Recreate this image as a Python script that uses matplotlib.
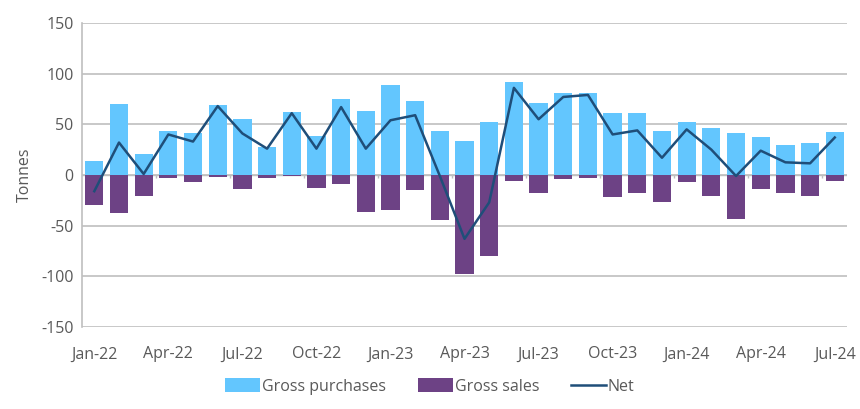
import numpy as np
import matplotlib.pyplot as plt

plt.rcParams['font.family'] = ['Open Sans', 'DejaVu Sans']
plt.rcParams['axes.unicode_minus'] = False

months = ['Jan-22', 'Feb-22', 'Mar-22', 'Apr-22', 'May-22', 'Jun-22', 'Jul-22', 'Aug-22',
          'Sep-22', 'Oct-22', 'Nov-22', 'Dec-22', 'Jan-23', 'Feb-23', 'Mar-23', 'Apr-23',
          'May-23', 'Jun-23', 'Jul-23', 'Aug-23', 'Sep-23', 'Oct-23', 'Nov-23', 'Dec-23',
          'Jan-24', 'Feb-24', 'Mar-24', 'Apr-24', 'May-24', 'Jun-24', 'Jul-24']
gross_purchases = [14, 70, 21, 43, 41, 69, 55, 28, 62, 38, 75, 63, 89, 73, 43, 34,
                   52, 92, 71, 81, 81, 61, 61, 43, 52, 46, 41, 37, 30, 32, 42]
gross_sales = [-30, -38, -21, -3, -7, -1.5, -14, -3, -1, -12.5, -9, -37, -35, -14.5, -44, -98,
               -80, -5.5, -17.5, -4, -3, -22, -17.5, -27, -7, -21, -43, -14, -17.5, -21, -5.5]
net = [-16, 32, 1, 40, 33, 68, 41, 26, 61, 26, 67, 26, 54, 59, -1, -63,
       -27, 86, 55, 77, 79, 40, 44, 17, 45, 25, -1, 24, 12.5, 11.5, 37]

c_buy = '#63C6FE'
c_sell = '#6D4285'
c_net = '#1F4E79'
c_text = '#595959'
c_grid = '#BFBFBF'

x = np.arange(len(months))

fig = plt.figure(figsize=(8.6, 4.09), dpi=100)
ax = fig.add_axes([0.0953, 0.2005, 0.8897, 0.7433])

b1 = ax.bar(x, gross_purchases, width=0.74, color=c_buy, label='Gross purchases', zorder=2)
b2 = ax.bar(x, gross_sales, width=0.74, color=c_sell, label='Gross sales', zorder=2)
l1, = ax.plot(x, net, color=c_net, lw=1.8, label='Net', zorder=3)

ax.set_ylim(-150, 150)
ax.set_yticks(np.arange(-150, 151, 50))
ax.set_xlim(-0.5, len(months) - 0.5)
ax.yaxis.grid(True, color=c_grid, lw=1.2, zorder=0)
ax.axhline(0, color=c_grid, lw=1.0, zorder=1)

# quarter tick marks on zero line
quarters = x[::3]
ax.vlines(quarters[1:] - 0.5, -3, 0, color=c_grid, lw=1.0, zorder=1)

ax.set_xticks(quarters)
ax.set_xticklabels([months[i] for i in quarters])
ax.tick_params(axis='both', length=0, labelsize=11.5, colors=c_text, pad=6)
ax.tick_params(axis='x', pad=14)

for s in ['top', 'right', 'bottom']:
    ax.spines[s].set_visible(False)
ax.spines['left'].set_color(c_grid)
ax.spines['left'].set_linewidth(1.2)

ax.set_ylabel('Tonnes', fontsize=11.5, color=c_text, labelpad=6)

fig.legend([b1, b2, l1], ['Gross purchases', 'Gross sales', 'Net'],
           loc='center', bbox_to_anchor=(0.5, 0.055), ncol=3, frameon=False,
           fontsize=11.5, labelcolor=c_text, handlelength=2.2, handleheight=0.9,
           handletextpad=0.1, columnspacing=2.0)

fig.savefig('out.png', dpi=100)
